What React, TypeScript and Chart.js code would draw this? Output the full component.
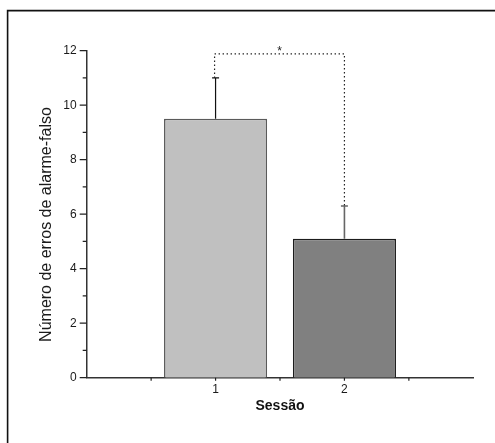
import React, { useEffect, useRef } from 'react';
import { Chart, registerables } from 'chart.js';

Chart.register(...registerables);

const sessions = [1, 2];
const means = [9.5, 5.1];
const sems = [1.5, 1.2];
const barColors = ['#c0c0c0', '#808080'];
const barBorders = ['#5a5a5a', '#1c1c1c'];
const errColors = ['#111111', '#666666'];
const yMajorTicks = [0, 2, 4, 6, 8, 10, 12];
const yMinorTicks = [1, 3, 5, 7, 9, 11];
const xTickPositions = [0.5, 1, 1.5, 2, 2.5];
const bracketLevel = 11.88;
const significance = '*';
const yTitle = 'Número de erros de alarme-falso';
const xTitle = 'Sessão';

const FONT = '"Liberation Sans", Arial, Helvetica, sans-serif';
const W = 495;
const H = 443;

const overlay = {
  id: 'overlay',
  afterDatasetsDraw(chart: any) {
    const { ctx, scales } = chart;
    const x = scales.x;
    const y = scales.y;
    ctx.save();
    // error bars (upper only)
    sessions.forEach((s, i) => {
      const px = x.getPixelForValue(s);
      const base = y.getPixelForValue(means[i]);
      const top = y.getPixelForValue(means[i] + sems[i]);
      ctx.strokeStyle = errColors[i];
      ctx.lineWidth = i === 0 ? 1.2 : 1.6;
      ctx.beginPath();
      ctx.moveTo(px, base);
      ctx.lineTo(px, top);
      ctx.moveTo(px - 3.5, top);
      ctx.lineTo(px + 3.5, top);
      ctx.stroke();
    });
    // significance bracket
    const p1 = x.getPixelForValue(sessions[0]) - 1;
    const p2 = x.getPixelForValue(sessions[1]);
    const by = y.getPixelForValue(bracketLevel);
    const t1 = y.getPixelForValue(means[0] + sems[0]);
    const t2 = y.getPixelForValue(means[1] + sems[1]);
    ctx.strokeStyle = '#222222';
    ctx.lineWidth = 1.2;
    ctx.setLineDash([1.4, 2.6]);
    ctx.beginPath();
    ctx.moveTo(p1, t1);
    ctx.lineTo(p1, by);
    ctx.lineTo(p2, by);
    ctx.lineTo(p2, t2);
    ctx.stroke();
    ctx.setLineDash([]);
    ctx.fillStyle = '#222222';
    ctx.font = `12px ${FONT}`;
    ctx.textAlign = 'center';
    ctx.textBaseline = 'alphabetic';
    ctx.fillText(significance, (p1 + p2) / 2, by + 1.5);
    ctx.restore();
  },
  afterDraw(chart: any) {
    const { ctx, scales, chartArea } = chart;
    const x = scales.x;
    const y = scales.y;
    ctx.save();
    ctx.strokeStyle = '#222222';
    ctx.lineWidth = 1.2;
    ctx.beginPath();
    yMajorTicks.forEach((v) => {
      const py = y.getPixelForValue(v);
      ctx.moveTo(chartArea.left - 7, py);
      ctx.lineTo(chartArea.left, py);
    });
    yMinorTicks.forEach((v) => {
      const py = y.getPixelForValue(v);
      ctx.moveTo(chartArea.left - 4, py);
      ctx.lineTo(chartArea.left, py);
    });
    xTickPositions.forEach((v) => {
      const px = x.getPixelForValue(v);
      ctx.moveTo(px, chartArea.bottom);
      ctx.lineTo(px, chartArea.bottom + 3);
    });
    ctx.stroke();
    // y title
    ctx.fillStyle = '#1a1a1a';
    ctx.font = `16px ${FONT}`;
    ctx.textAlign = 'center';
    ctx.textBaseline = 'middle';
    ctx.translate(46.7, 224.5);
    ctx.rotate(-Math.PI / 2);
    ctx.fillText(yTitle, 0, 0);
    ctx.setTransform(1, 0, 0, 1, 0, 0);
    // outer frame
    ctx.strokeStyle = '#111111';
    ctx.lineWidth = 1.6;
    ctx.beginPath();
    ctx.moveTo(7.6, H);
    ctx.lineTo(7.6, 10.6);
    ctx.lineTo(W, 10.6);
    ctx.stroke();
    ctx.restore();
  },
};

export default function App() {
  const ref = useRef<HTMLCanvasElement>(null);
  useEffect(() => {
    if (!ref.current) return;
    const chart = new Chart(ref.current, {
      type: 'bar',
      data: {
        datasets: [
          {
            data: sessions.map((s, i) => ({ x: s, y: means[i] })),
            backgroundColor: barColors,
            borderColor: barBorders,
            borderWidth: 1.5,
            categoryPercentage: 0.8,
            barPercentage: 1.0,
          },
        ],
      },
      options: {
        responsive: false,
        animation: false,
        devicePixelRatio: 1,
        layout: { padding: { left: 0, right: 21.7, top: 50.7, bottom: 0 } },
        plugins: { legend: { display: false }, tooltip: { enabled: false } },
        scales: {
          x: {
            type: 'linear',
            min: 0,
            max: 3,
            offset: false,
            grid: { display: false, drawTicks: false, offset: false },
            border: { display: true, color: '#333333', width: 1.5 },
            afterFit: (s: any) => {
              s.height = 65.3;
            },
            ticks: {
              stepSize: 1,
              autoSkip: false,
              maxRotation: 0,
              padding: 4.5,
              color: '#1a1a1a',
              font: { family: FONT, size: 12 },
              callback: (v: any) => (sessions.includes(Number(v)) ? String(v) : ''),
            },
            title: {
              display: true,
              text: xTitle,
              color: '#111111',
              font: { family: FONT, size: 14, weight: 'bold' },
              padding: { top: 0, bottom: 28.5 },
            },
          },
          y: {
            min: 0,
            max: 12,
            grid: { display: false, drawTicks: false },
            border: { display: true, color: '#333333', width: 1.5 },
            afterFit: (s: any) => {
              s.width = 86.7;
            },
            ticks: {
              stepSize: 2,
              padding: 10,
              color: '#1a1a1a',
              font: { family: FONT, size: 12 },
            },
          },
        },
      },
      plugins: [overlay],
    } as any);
    return () => chart.destroy();
  }, []);
  return (
    <div style={{ position: 'fixed', left: 0, top: 0, width: W, height: H, background: '#fff' }}>
      <canvas ref={ref} width={W} height={H} style={{ width: W, height: H, display: 'block' }} />
    </div>
  );
}
